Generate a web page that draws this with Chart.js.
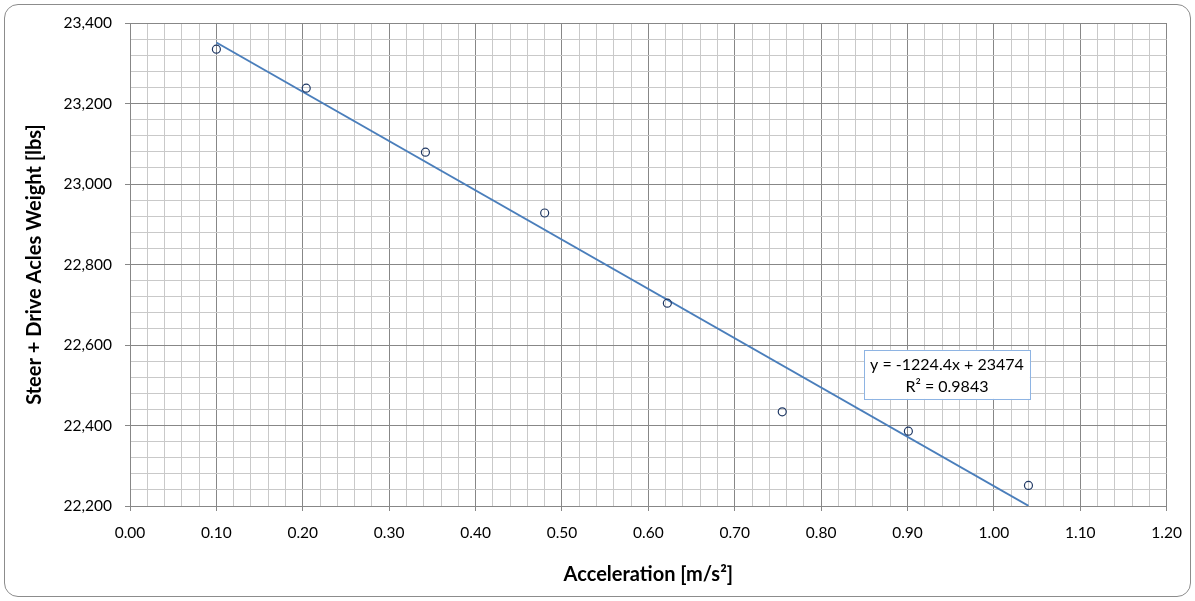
<!DOCTYPE html>
<html><head><meta charset="utf-8">
<script src="https://cdn.jsdelivr.net/npm/chart.js@4.4.0/dist/chart.umd.min.js"></script>
<style>
html,body{margin:0;padding:0;background:#fff;}
#wrap{position:relative;width:1195px;height:601px;overflow:hidden;}
#frame{position:absolute;left:4px;top:4px;width:1187px;height:593px;border:1px solid #8c8c8c;border-radius:14px;box-sizing:border-box;}
canvas{position:absolute;left:0;top:0;}
</style></head><body>
<div id="wrap"><div id="frame"></div><canvas id="c" width="1195" height="601"></canvas></div>
<script>
// Data
const accel  = [0.100, 0.204, 0.342, 0.480, 0.622, 0.755, 0.901, 1.040];
const weight = [23335, 23238, 23079, 22928, 22704, 22434, 22386, 22251];
const trendSlope = -1224.4;
const trendIntercept = 23474;
const trendLabels = ['y = -1224.4x + 23474', 'R\u00B2 = 0.9843'];
const xTitle = 'Acceleration [m/s\u00B2]';
const yTitle = 'Steer + Drive Acles Weight [lbs]';

const FONT = 'Lato, "Open Sans", sans-serif';
const MAJOR = '#878787', MINOR = '#c9c9c9';

const points = accel.map((a, i) => ({x: a, y: weight[i]}));
const xMin = Math.min(...accel), xMax = Math.max(...accel);
const trend = [xMin, xMax].map(a => ({x: a, y: trendSlope * a + trendIntercept}));

const isMajorX = v => Math.round(v * 50) % 5 === 0;
const isMajorY = v => Math.round(v - 22200) % 200 === 0;

const trendBox = {
  id: 'trendBox',
  afterDatasetsDraw(chart) {
    const {ctx, scales: {x, y}} = chart;
    const l = x.getPixelForValue(0.8497), r = x.getPixelForValue(1.0416);
    const t = y.getPixelForValue(22588), b = y.getPixelForValue(22466);
    ctx.save();
    ctx.fillStyle = '#fff';
    ctx.fillRect(l, t, r - l, b - t);
    ctx.strokeStyle = '#8eb4e3';
    ctx.lineWidth = 1;
    ctx.strokeRect(Math.round(l) + 0.5, Math.round(t) + 0.5, Math.round(r - l), Math.round(b - t));
    ctx.fillStyle = '#000';
    ctx.font = '16px ' + FONT;
    ctx.textAlign = 'center';
    ctx.textBaseline = 'middle';
    const cx = (l + r) / 2;
    ctx.fillText(trendLabels[0], cx, t + 15);
    ctx.fillText(trendLabels[1], cx, t + 37);
    ctx.restore();
  }
};

new Chart(document.getElementById('c'), {
  type: 'scatter',
  data: {
    datasets: [
      {
        label: 'data',
        data: points,
        order: 0,
        pointStyle: 'circle',
        pointRadius: 4,
        pointBorderWidth: 1.2,
        pointBorderColor: '#1f3864',
        pointBackgroundColor: 'rgba(255,255,255,0)'
      },
      {
        label: 'trend',
        data: trend,
        order: 1,
        showLine: true,
        pointRadius: 0,
        borderColor: '#4a7ebb',
        borderWidth: 2
      }
    ]
  },
  options: {
    responsive: false,
    devicePixelRatio: 1,
    animation: false,
    layout: {padding: {top: 23, right: 27, left: 0, bottom: 0}},
    plugins: {legend: {display: false}, tooltip: {enabled: false}},
    scales: {
      x: {
        type: 'linear', min: 0, max: 1.2,
        afterFit: s => { s.height = 95; },
        border: {color: MAJOR, width: 1},
        grid: {
          color: c => isMajorX(c.tick.value) ? MAJOR : MINOR,
          tickColor: c => isMajorX(c.tick.value) ? MAJOR : 'rgba(0,0,0,0)',
          tickLength: 5, drawTicks: true
        },
        ticks: {
          stepSize: 0.02, autoSkip: false, maxRotation: 0, padding: 13,
          color: '#000', font: {family: FONT, size: 15.5},
          callback: v => isMajorX(v) ? v.toFixed(2) : ''
        },
        title: {display: true, text: xTitle, color: '#000',
          font: {family: FONT, size: 20, weight: 'bold'}, padding: {top: 0, bottom: 14}}
      },
      y: {
        type: 'linear', min: 22200, max: 23400,
        afterFit: s => { s.width = 130; },
        border: {color: MAJOR, width: 1},
        grid: {
          color: c => isMajorY(c.tick.value) ? MAJOR : MINOR,
          tickColor: c => isMajorY(c.tick.value) ? MAJOR : 'rgba(0,0,0,0)',
          tickLength: 5, drawTicks: true
        },
        ticks: {
          stepSize: 40, autoSkip: false, padding: 13,
          color: '#000', font: {family: FONT, size: 15.5},
          callback: v => isMajorY(v) ? Math.round(v).toLocaleString('en-US') : ''
        },
        title: {display: true, text: yTitle, color: '#000',
          font: {family: FONT, size: 20, weight: 'bold'}, padding: {top: 23, bottom: 0}}
      }
    }
  },
  plugins: [trendBox]
});
</script>
</body></html>
